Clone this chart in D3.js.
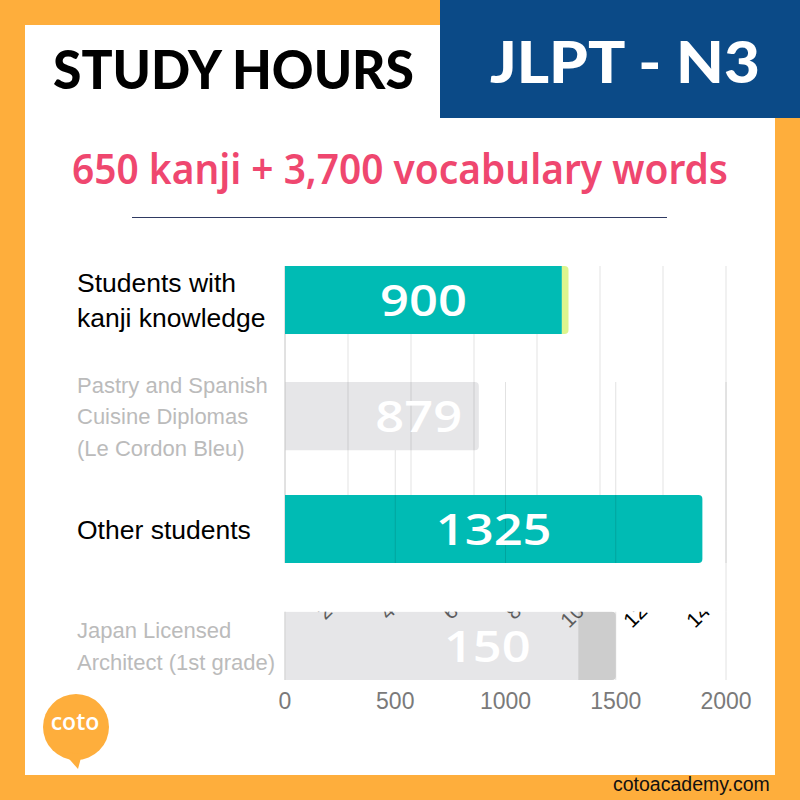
<!DOCTYPE html>
<html><head><meta charset="utf-8">
<script src="https://cdn.jsdelivr.net/npm/d3@7"></script>
<style>body{margin:0;background:#fff}svg{display:block}</style>
</head><body><svg id="c" width="800" height="800"></svg>
<script>
// ---------- data ----------
const title = "STUDY HOURS";
const badge = "JLPT - N3";
const subtitle = "650 kanji + 3,700 vocabulary words";
const site = "cotoacademy.com";
const logoText = "coto";

// teal chart (0 – 1400 scale)
const catsA = ["Students with|kanji knowledge", "Other students"];
const valsA = [879, 1325];
const extraA = [21, 0];
const labelsA = ["900", "1325"];
const ticksA = [200, 400, 600, 800, 1000, 1200, 1400];
const domainA = [0, 1400];

// gray chart (0 – 2000 scale)
const catsB = ["Pastry and Spanish|Cuisine Diplomas|(Le Cordon Bleu)", "Japan Licensed|Architect (1st grade)"];
const valsB = [879, 1330];
const extraB = [0, 170];
const labelsB = ["879", "150"];
const ticksB = [0, 500, 1000, 1500, 2000];
const domainB = [0, 2000];

// ---------- drawing ----------
const svg = d3.select("#c");
const ORANGE = "#FEAE3C", BLUE = "#0B4A87", TEAL = "#00BBB4", LIME = "#DDF58E";
const GRAY = "#E6E6E8", DGRAY = "#CDCDCD";

svg.append("rect").attr("width", 800).attr("height", 800).attr("fill", ORANGE);
svg.append("rect").attr("x", 25).attr("y", 25).attr("width", 750).attr("height", 750).attr("fill", "#fff");
svg.append("rect").attr("x", 440).attr("y", 0).attr("width", 360).attr("height", 118).attr("fill", BLUE);

svg.append("text").text(title).attr("x", 53).attr("y", 89)
  .attr("textLength", 361).attr("lengthAdjust", "spacingAndGlyphs")
  .style("font", "900 54px Lato").attr("fill", "#000");
svg.append("text").text(badge).attr("x", 490).attr("y", 83)
  .attr("textLength", 270).attr("lengthAdjust", "spacingAndGlyphs")
  .style("font", "900 57px Lato").attr("fill", "#fff");

svg.append("text").text(subtitle).attr("x", 72).attr("y", 184)
  .attr("textLength", 656).attr("lengthAdjust", "spacingAndGlyphs")
  .style("font", "600 42px 'Noto Sans'").attr("fill", "#EF476F");
svg.append("line").attr("x1", 132).attr("x2", 667).attr("y1", 217.5).attr("y2", 217.5)
  .attr("stroke", "#2f3a62").attr("stroke-width", 1);

const xA = d3.scaleLinear().domain(domainA).range([285, 726]);
const xB = d3.scaleLinear().domain(domainB).range([285, 726]);
const yA = d3.scaleBand().domain(catsA).range([266, 563]).paddingInner(0.703);
const yB = d3.scaleBand().domain(catsB).range([382, 680]).paddingInner(0.703);

function rightRounded(x0, x1, y, h, r) {
  r = Math.min(r, (x1 - x0));
  return `M${x0},${y}H${x1 - r}Q${x1},${y} ${x1},${y + r}V${y + h - r}Q${x1},${y + h} ${x1 - r},${y + h}H${x0}Z`;
}

// grid of gray chart
const [yB0, yB1] = yB.range();
svg.append("g").selectAll("line").data(ticksB.filter(t => t > 0)).join("line")
  .attr("x1", d => xB(d)).attr("x2", d => xB(d)).attr("y1", yB0).attr("y2", yB1)
  .attr("stroke", "#e2e2e2");

// gray bars
const gB = svg.append("g");
catsB.forEach((c, i) => {
  const y = yB(c), h = yB.bandwidth();
  if (extraB[i] > 0) {
    gB.append("rect").attr("x", xB(0)).attr("y", y).attr("width", xB(valsB[i]) - xB(0)).attr("height", h).attr("fill", GRAY);
    gB.append("path").attr("d", rightRounded(xB(valsB[i]), xB(valsB[i] + extraB[i]), y, h, 4)).attr("fill", DGRAY);
  } else {
    gB.append("path").attr("d", rightRounded(xB(0), xB(valsB[i]), y, h, 4)).attr("fill", GRAY);
  }
});

// grid of teal chart
const [yA0, yA1] = yA.range();
svg.append("g").selectAll("line").data(ticksA).join("line")
  .attr("x1", d => xA(d)).attr("x2", d => xA(d)).attr("y1", yA0).attr("y2", yA1)
  .attr("stroke", "rgba(0,0,0,0.11)");
svg.append("line").attr("x1", xA(0)).attr("x2", xA(0)).attr("y1", yA0).attr("y2", yB1)
  .attr("stroke", "#c4c4c4");

// teal bars
const gA = svg.append("g");
catsA.forEach((c, i) => {
  const y = yA(c), h = yA.bandwidth();
  if (extraA[i] > 0) {
    gA.append("rect").attr("x", xA(0)).attr("y", y).attr("width", xA(valsA[i]) - xA(0)).attr("height", h).attr("fill", TEAL);
    gA.append("path").attr("d", rightRounded(xA(valsA[i]), xA(valsA[i] + extraA[i]), y, h, 4)).attr("fill", LIME);
  } else {
    gA.append("path").attr("d", rightRounded(xA(0), xA(valsA[i]), y, h, 4)).attr("fill", TEAL);
  }
});
// gray-chart grid showing through the lower teal bar
const lowA = catsA[1];
svg.append("g").selectAll("line").data(ticksB.filter(t => t > 0 && xB(t) < xA(valsA[1]))).join("line")
  .attr("x1", d => xB(d)).attr("x2", d => xB(d)).attr("y1", yA(lowA)).attr("y2", yA(lowA) + yA.bandwidth())
  .attr("stroke", "rgba(0,0,0,0.12)");

// rotated tick labels of teal chart (mostly hidden)
svg.append("g").selectAll("text").data(ticksA).join("text")
  .attr("transform", d => `translate(${xA(d) + 2},596) rotate(-45)`)
  .attr("text-anchor", "end").text(d => d)
  .style("font", "21px 'Liberation Sans'").attr("fill", "#000");
// white band cutting them
const lowB = catsB[1];
svg.append("rect").attr("x", 284).attr("y", yA1).attr("width", 450).attr("height", yB(lowB) - yA1).attr("fill", "#fff");
svg.append("line").attr("x1", xB(2000)).attr("x2", xB(2000)).attr("y1", yA1).attr("y2", yB(lowB))
  .attr("stroke", "#e2e2e2");
// lower gray bar veils the labels
svg.append("rect").attr("x", xB(0)).attr("y", yB(lowB)).attr("width", xB(valsB[1]) - xB(0)).attr("height", yB.bandwidth())
  .attr("fill", GRAY).attr("opacity", 0.4);
svg.append("path").attr("d", rightRounded(xB(valsB[1]), xB(valsB[1] + extraB[1]), yB(lowB), yB.bandwidth(), 4))
  .attr("fill", DGRAY).attr("opacity", 0.4);

// bar value labels
function valueLabel(x, yc, txt) {
  const t = svg.append("text").text(txt).attr("x", x).attr("y", yc + 16)
    .attr("text-anchor", "middle").style("font", "600 44px 'Open Sans'").attr("fill", "#fff");
  const w = t.node().getComputedTextLength();
  t.attr("textLength", w * 1.15).attr("lengthAdjust", "spacingAndGlyphs");
}
catsA.forEach((c, i) => valueLabel(xA(valsA[i] / 2), yA(c) + yA.bandwidth() / 2, labelsA[i]));
catsB.forEach((c, i) => valueLabel(xB(valsB[i] * 0.69), yB(c) + yB.bandwidth() / 2, labelsB[i]));

// bottom axis labels (gray chart)
svg.append("g").selectAll("text").data(ticksB).join("text")
  .attr("x", d => xB(d)).attr("y", 709).attr("text-anchor", "middle").text(d => d)
  .style("font", "23px 'Liberation Sans'").attr("fill", "#7a7a7a");

// category labels
function catLabel(lines, yc, size, lh, color) {
  const n = lines.length;
  lines.forEach((s, k) => {
    svg.append("text").text(s).attr("x", 77)
      .attr("y", yc + (k - (n - 1) / 2) * lh + size * 0.36)
      .style("font", `${size}px 'Liberation Sans'`).attr("fill", color);
  });
}
catsA.forEach(c => catLabel(c.split("|"), yA(c) + yA.bandwidth() / 2, 26.5, 35, "#000"));
catsB.forEach(c => catLabel(c.split("|"), yB(c) + yB.bandwidth() / 2, 22, 31.5, "#bbbbbb"));

// logo
svg.append("circle").attr("cx", 76).attr("cy", 727).attr("r", 33).attr("fill", ORANGE);
svg.append("path").attr("d", "M63,752 L78,769 L82,754 Z").attr("fill", ORANGE);
svg.append("text").text(logoText).attr("x", 75).attr("y", 730).attr("text-anchor", "middle")
  .style("font", "600 23px 'Open Sans'").attr("fill", "#fff");

svg.append("text").text(site).attr("x", 613).attr("y", 791)
  .style("font", "19.5px 'Liberation Sans'").attr("fill", "#111");
</script>
</body></html>
